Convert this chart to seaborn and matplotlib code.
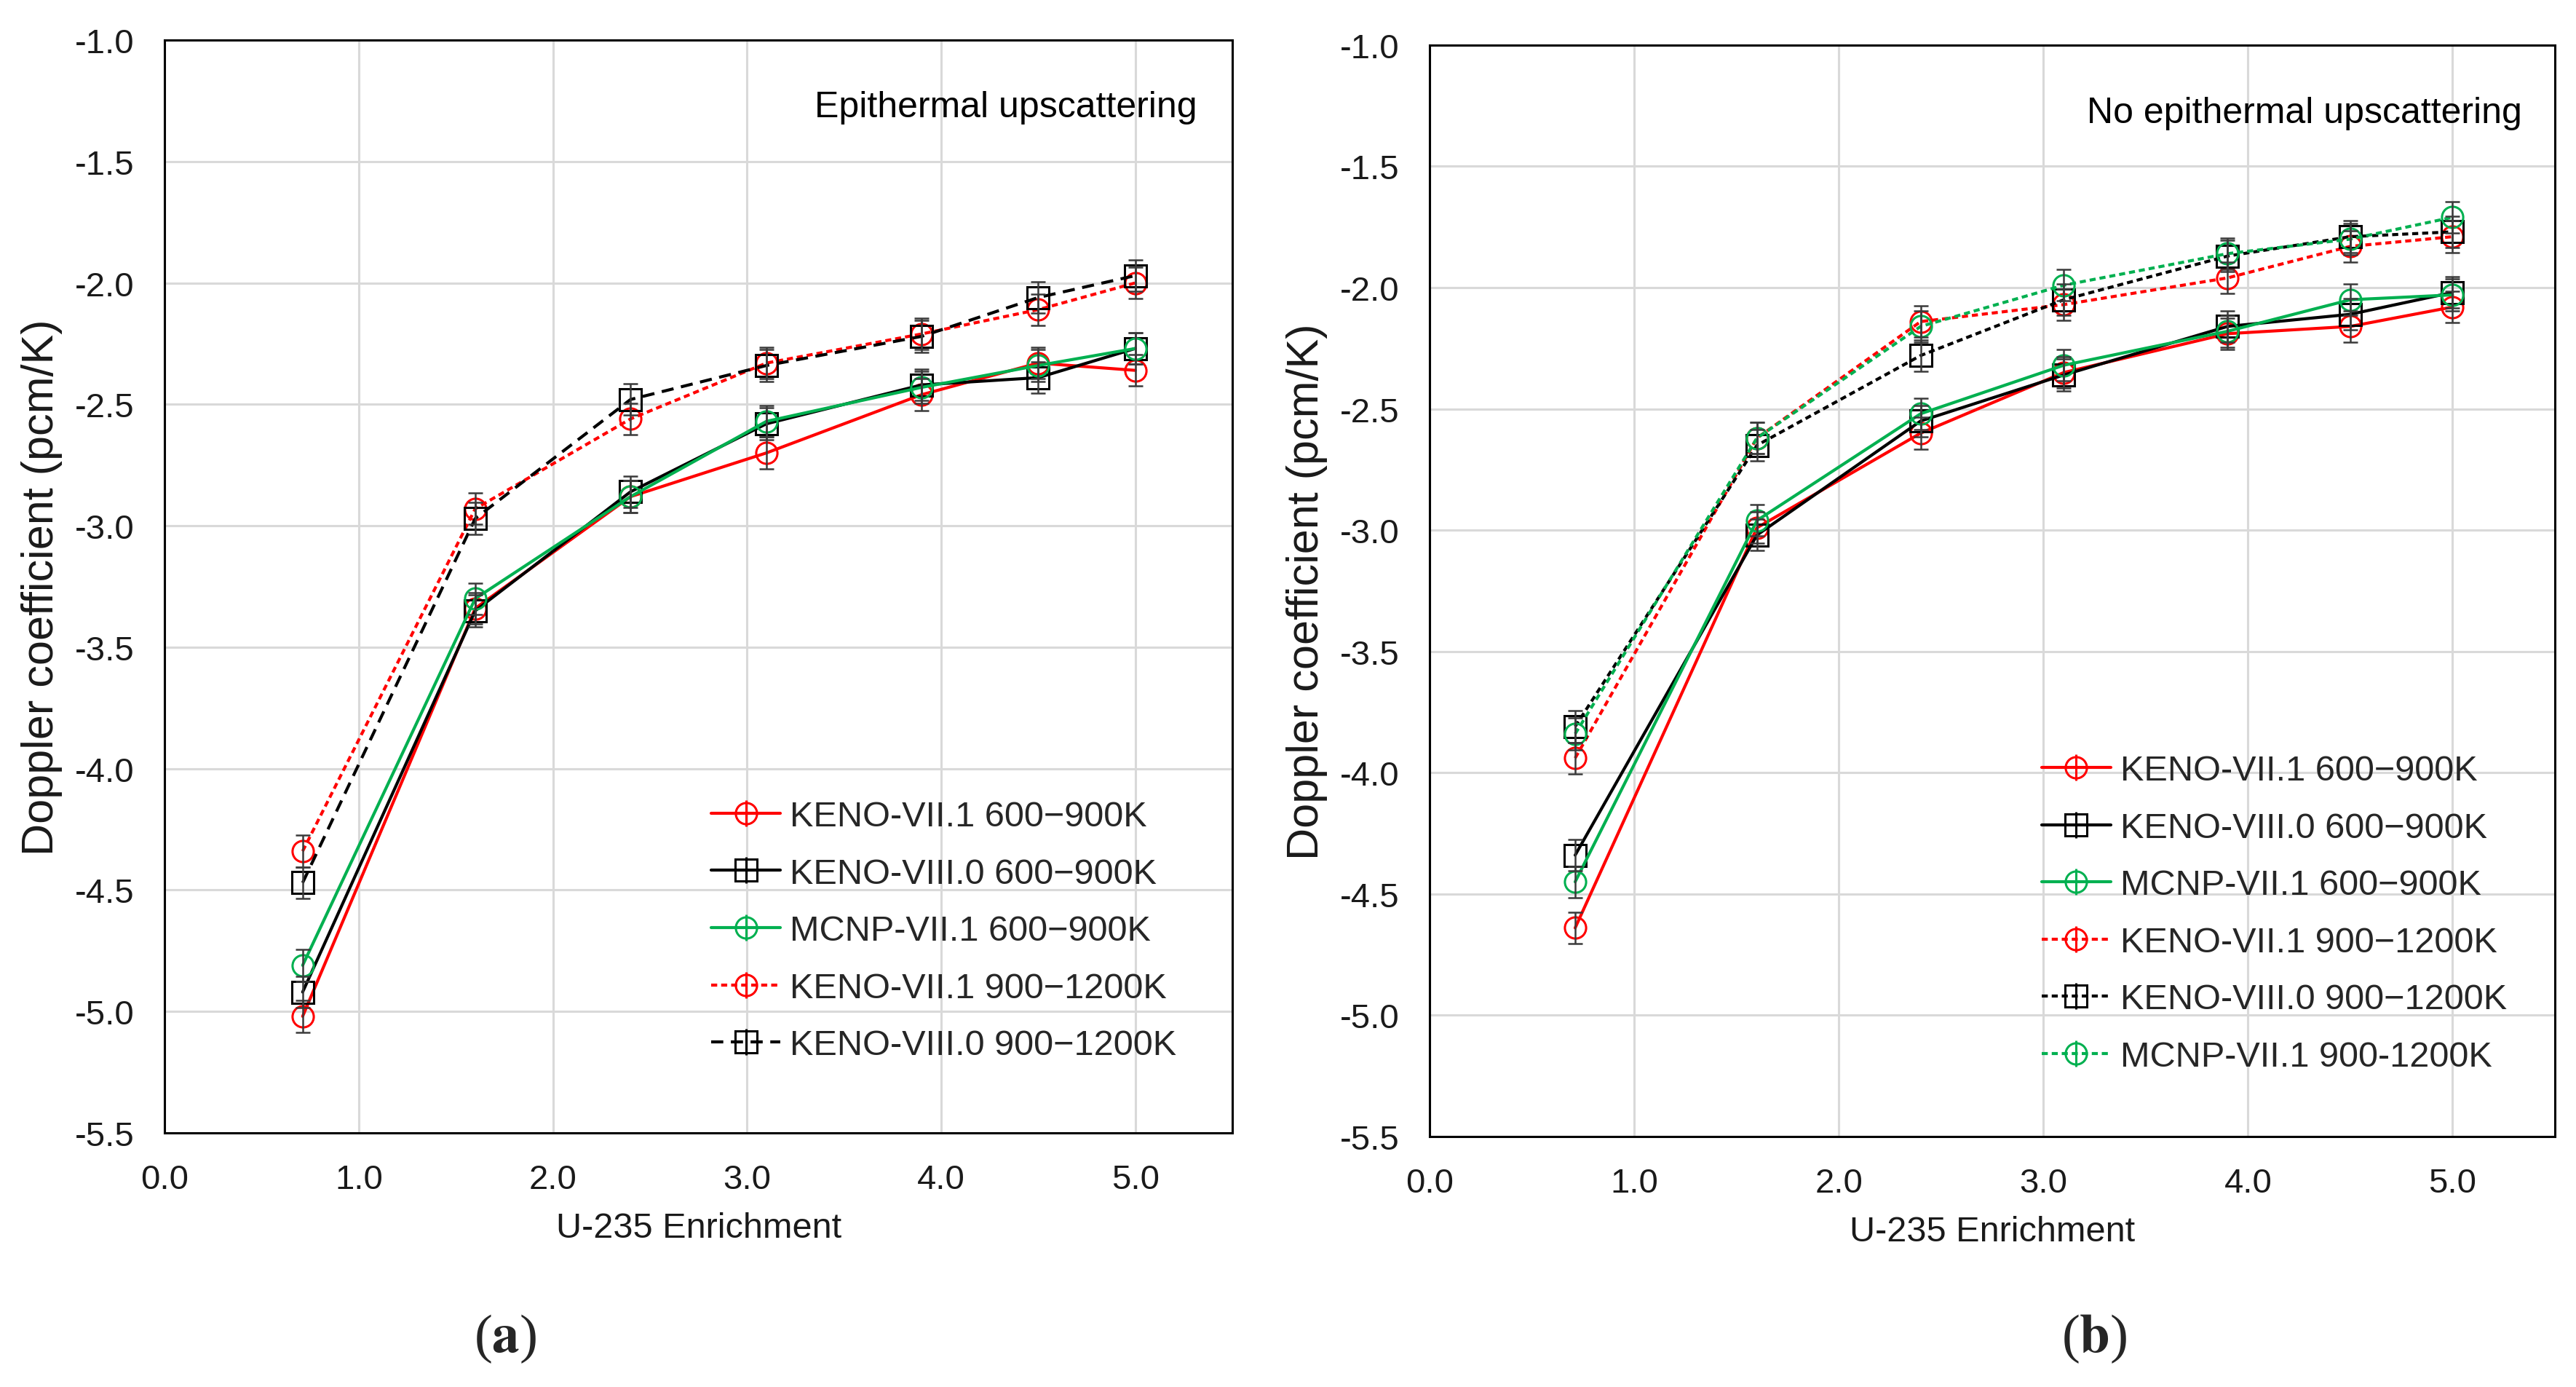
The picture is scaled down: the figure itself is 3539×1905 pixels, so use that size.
import matplotlib
matplotlib.use("Agg")
import matplotlib.pyplot as plt
from matplotlib import font_manager
from matplotlib.lines import Line2D
import seaborn as sns
import pandas as pd

# enrichment points (wt% U-235)
enrich = [0.711, 1.6, 2.4, 3.1, 3.9, 4.5, 5.0]

# (a) epithermal upscattering, pcm/K
a_keno7_600 = [-5.02, -3.34, -2.88, -2.70, -2.46, -2.33, -2.36]
a_keno8_600 = [-4.92, -3.35, -2.86, -2.58, -2.42, -2.39, -2.27]
a_mcnp_600 = [-4.81, -3.30, -2.88, -2.57, -2.43, -2.34, -2.27]
a_keno7_900 = [-4.34, -2.93, -2.56, -2.33, -2.21, -2.11, -2.00]
a_keno8_900 = [-4.47, -2.97, -2.48, -2.34, -2.22, -2.06, -1.97]
a_err = [0.065, 0.065, 0.065, 0.065, 0.065, 0.065, 0.065]

# (b) no epithermal upscattering, pcm/K
b_keno7_600 = [-4.64, -2.99, -2.60, -2.35, -2.19, -2.16, -2.08]
b_keno8_600 = [-4.34, -3.02, -2.55, -2.36, -2.16, -2.11, -2.02]
b_mcnp_600 = [-4.45, -2.96, -2.52, -2.32, -2.18, -2.05, -2.03]
b_keno7_900 = [-3.94, -2.62, -2.14, -2.07, -1.96, -1.83, -1.79]
b_keno8_900 = [-3.81, -2.65, -2.28, -2.05, -1.87, -1.79, -1.77]
b_mcnp_900 = [-3.84, -2.62, -2.16, -1.99, -1.86, -1.80, -1.71]
b_err = [0.065, 0.065, 0.065, 0.065, 0.065, 0.065, 0.065]

labels_a = ["KENO-VII.1 600\u2212900K", "KENO-VIII.0 600\u2212900K", "MCNP-VII.1 600\u2212900K",
            "KENO-VII.1 900\u22121200K", "KENO-VIII.0 900\u22121200K"]
labels_b = labels_a + ["MCNP-VII.1 900-1200K"]

RED = "#ff0000"
BLK = "#000000"
GRN = "#00b050"
short_dash = (0, (2.0, 1.3))
long_dash = (0, (4.0, 2.5))

sns.set_style("whitegrid")
names = {f.name for f in font_manager.fontManager.ttflist}
if "Liberation Sans Narrow" in names:
    FONT = ["Liberation Sans Narrow", "Liberation Sans", "DejaVu Sans"]
else:
    FONT = ["Liberation Sans", "DejaVu Sans"]
FS = 34       # ticks, x label
FS_LEG = 35   # legend
FS_Y = 44     # rotated y label
plt.rcParams["font.family"] = FONT
plt.rcParams["axes.unicode_minus"] = False
plt.rcParams["mathtext.fontset"] = "stix"

fig = plt.figure(figsize=(35.39, 19.06), dpi=100)
ax_a = fig.add_axes([0.0639, 0.1831, 0.4145, 0.7875])
ax_b = fig.add_axes([0.5550, 0.1805, 0.4368, 0.7865])

series_a = [
    (a_keno7_600, RED, "-", "o"),
    (a_keno8_600, BLK, "-", "s"),
    (a_mcnp_600, GRN, "-", "o"),
    (a_keno7_900, RED, short_dash, "o"),
    (a_keno8_900, BLK, long_dash, "s"),
]
series_b = [
    (b_keno7_600, RED, "-", "o"),
    (b_keno8_600, BLK, "-", "s"),
    (b_mcnp_600, GRN, "-", "o"),
    (b_keno7_900, RED, short_dash, "o"),
    (b_keno8_900, BLK, short_dash, "s"),
    (b_mcnp_900, GRN, short_dash, "o"),
]


def draw_panel(ax, series, labels, err, note, leg_xy):
    handles = []
    for (vals, col, ls, mk), lab in zip(series, labels):
        df = pd.DataFrame({"x": enrich, "y": vals})
        sns.lineplot(data=df, x="x", y="y", ax=ax, color=col, linestyle=ls,
                     marker=mk, markersize=21, markerfacecolor="none",
                     markeredgecolor=col, markeredgewidth=2.2, linewidth=3.0,
                     errorbar=None, legend=False, zorder=3)
        ax.errorbar(enrich, vals, yerr=err, fmt="none", ecolor="#3a3a3a",
                    elinewidth=1.8, capsize=7, capthick=1.8, zorder=4)
        h_line = Line2D([], [], color=col, linestyle=ls, linewidth=3.0, marker=mk,
                        markersize=21, markerfacecolor="none", markeredgecolor=col,
                        markeredgewidth=2.2)
        h_bar = Line2D([], [], color=col, linestyle="none", marker="|",
                       markersize=26, markeredgewidth=2.2)
        handles.append((h_line, h_bar))

    ax.set_xlim(0, 5.5)
    ax.set_ylim(-5.5, -1.0)
    ax.set_xticks([0, 1, 2, 3, 4, 5])
    ax.set_yticks([-5.5, -5.0, -4.5, -4.0, -3.5, -3.0, -2.5, -2.0, -1.5, -1.0])
    ax.xaxis.set_major_formatter(matplotlib.ticker.FormatStrFormatter("%.1f"))
    ax.yaxis.set_major_formatter(matplotlib.ticker.FormatStrFormatter("%.1f"))
    ax.tick_params(axis="both", length=0, pad=30, labelsize=FS, colors="#1a1a1a")
    ax.grid(True, color="#d9d9d9", linewidth=2.2)
    for sp in ax.spines.values():
        sp.set_color("black")
        sp.set_linewidth(2.2)
    ax.set_xlabel("U-235 Enrichment", fontsize=FS + 1, labelpad=16, color="#1a1a1a")
    ax.set_ylabel("Doppler coefficient (pcm/K)", fontsize=FS_Y, labelpad=12, color="#1a1a1a")
    ax.text(note[0], note[1], note[2], transform=ax.transAxes, ha="right",
            va="center", fontsize=FS + 2, color="black")
    ax.legend(handles=handles, labels=labels, loc="upper left",
              bbox_to_anchor=leg_xy, bbox_transform=ax.transAxes, frameon=False,
              fontsize=FS_LEG, handlelength=1.95, handletextpad=0.27, labelspacing=0.69,
              borderpad=0, borderaxespad=0)


draw_panel(ax_a, series_a, labels_a, a_err,
           (0.967, 0.939, "Epithermal upscattering"), (0.512, 0.3045))
draw_panel(ax_b, series_b, labels_b, b_err,
           (0.971, 0.938, "No epithermal upscattering"), (0.544, 0.350))

fig.text(0.196, 0.035, r"($\mathbf{a}$)", ha="center", va="center", fontsize=54,
         family="Liberation Serif")
fig.text(0.813, 0.035, r"($\mathbf{b}$)", ha="center", va="center", fontsize=54,
         family="Liberation Serif")

fig.savefig("out.png", dpi=100)
